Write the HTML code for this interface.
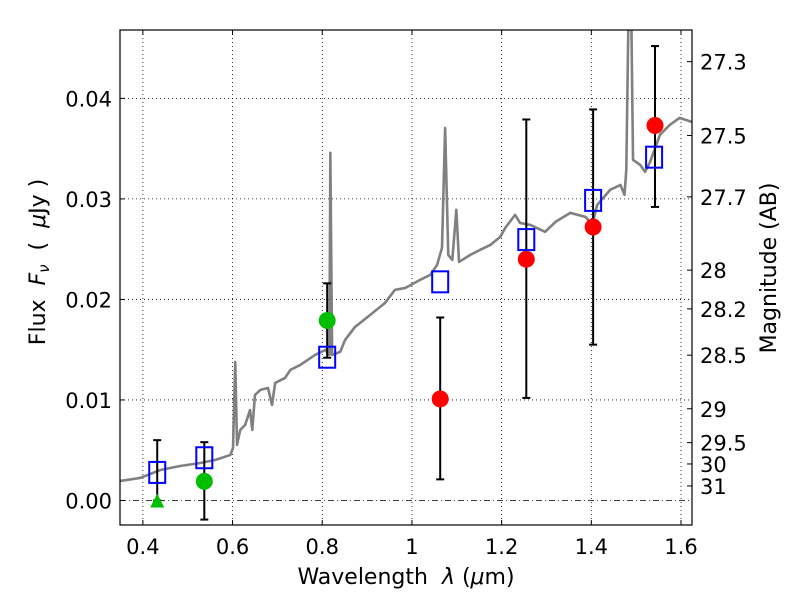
<!DOCTYPE html>
<html><head><meta charset="utf-8"><style>
body{margin:0;background:#fff;}
svg{display:block;font-family:"DejaVu Sans","Liberation Sans",sans-serif;}
</style></head><body>
<svg id="chart" width="800" height="600" viewBox="0 0 800 600" xmlns="http://www.w3.org/2000/svg"></svg>
<script>
const specX=[0.349,0.394,0.439,0.483,0.528,0.561,0.595,0.601,0.606,0.610,0.617,0.628,0.639,0.644,0.650,0.662,0.679,0.688,0.695,0.717,0.729,0.751,0.784,0.807,0.816,0.818,0.822,0.840,0.851,0.873,0.907,0.940,0.962,0.985,1.018,1.041,1.056,1.067,1.074,1.081,1.090,1.099,1.105,1.130,1.152,1.175,1.197,1.208,1.230,1.241,1.264,1.297,1.320,1.353,1.387,1.402,1.413,1.442,1.465,1.474,1.478,1.483,1.489,1.493,1.509,1.520,1.531,1.553,1.575,1.597,1.624];
const specY=[0.00194,0.00224,0.00303,0.00343,0.00373,0.00403,0.00453,0.00522,0.01378,0.00552,0.00701,0.00751,0.00900,0.00701,0.01050,0.01100,0.01119,0.00950,0.01169,0.01219,0.01299,0.01348,0.01448,0.01498,0.01448,0.03458,0.01448,0.01478,0.01597,0.01726,0.01846,0.01965,0.02095,0.02114,0.02194,0.02244,0.02343,0.02512,0.03706,0.02443,0.02393,0.02891,0.02373,0.02443,0.02493,0.02542,0.02622,0.02711,0.02841,0.02761,0.02741,0.02672,0.02771,0.02861,0.02821,0.02741,0.02940,0.03090,0.03139,0.03040,0.03289,0.0488,0.0488,0.03388,0.03338,0.03269,0.03368,0.03637,0.03736,0.03806,0.03766];
const modelX=[0.432,0.537,0.811,1.063,1.255,1.404,1.540];
const modelY=[0.00274,0.0042,0.0142,0.0217,0.0259,0.0298,0.0341];
const errX=[0.432,0.537,0.811,1.063,1.255,1.404,1.542];
const errLo=[0.0,-0.0019,0.0142,0.0021,0.0102,0.0155,0.0292];
const errHi=[0.006,0.0058,0.0216,0.0182,0.0379,0.0389,0.0452];
const redX=[1.063,1.255,1.404,1.542];
const redY=[0.0101,0.0240,0.0272,0.0373];
const greenX=[0.537,0.811];
const greenY=[0.0019,0.0179];
const triX=[0.432];
const triY=[0.0];
const xTicks=[0.4,0.6,0.8,1.0,1.2,1.4,1.6];
const xTickLabels=["0.4","0.6","0.8","1","1.2","1.4","1.6"];
const yTicks=[0,0.01,0.02,0.03,0.04];
const yTickLabels=["0.00","0.01","0.02","0.03","0.04"];
const magTicks=[27.3,27.5,27.7,28,28.2,28.5,29,29.5,30,31];

const L=120,R=692,T=30,B=525;
const X0=0.349,X1=1.6245,Y0=-0.00244,Y1=0.0468;
const sx=v=>L+(v-X0)/(X1-X0)*(R-L);
const sy=v=>B-(v-Y0)/(Y1-Y0)*(B-T);
const NS="http://www.w3.org/2000/svg";
const svg=document.getElementById('chart');
function mk(tag,attrs,parent){const e=document.createElementNS(NS,tag);for(const k in attrs)e.setAttribute(k,attrs[k]);(parent||svg).appendChild(e);return e;}

const defs=mk('defs',{});
const cp=mk('clipPath',{id:'clip'},defs);
mk('rect',{x:L,y:T,width:R-L,height:B-T},cp);

xTicks.forEach((t,i)=>{
  const g=mk('line',{x1:sx(t),x2:sx(t),y1:T,y2:B,stroke:'#000','stroke-width':0.8,'stroke-dasharray':'1,3'});
  
  
  const tk=mk('line',{x1:sx(t),x2:sx(t),y1:B,y2:B-5,stroke:'#000'});
  
  
  const tk2=mk('line',{x1:sx(t),x2:sx(t),y1:T,y2:T+5,stroke:'#000'});
  
  
  const tx=mk('text',{x:sx(t),y:B+29,'text-anchor':'middle','font-size':21});
  tx.textContent=xTickLabels[i];
  
  
});
yTicks.forEach((t,i)=>{
  if(t!==0){
    const g=mk('line',{x1:L,x2:R,y1:sy(t),y2:sy(t),stroke:'#000','stroke-width':0.8,'stroke-dasharray':'1,3'});
    
    
  }
  const tk=mk('line',{x1:L,x2:L+5,y1:sy(t),y2:sy(t),stroke:'#000'});
  
  
  const tx=mk('text',{x:L-8,y:sy(t)+8,'text-anchor':'end','font-size':21});
  tx.textContent=yTickLabels[i];
  
  
});
const zl=mk('line',{x1:L,x2:R,y1:sy(0),y2:sy(0),stroke:'#000','stroke-width':0.8,'stroke-dasharray':'6,3,1,3'});



magTicks.forEach(m=>{
  const f=Math.pow(10,(23.9-m)/2.5);
  const y=sy(f);
  const tk=mk('line',{x1:R,x2:R-5,y1:y,y2:y,stroke:'#000'});
  
  
  const tx=mk('text',{x:R+8,y:y+8,'font-size':21});
  tx.textContent=String(m);
  
  
});

const plot=mk('g',{'clip-path':'url(#clip)'});


const sp=mk('polyline',{points:specX.map((v,i)=>sx(v)+','+sy(specY[i])).join(' '),fill:'none',stroke:'#808080','stroke-width':2.6,'stroke-linejoin':'round'},plot);



errX.forEach((v,i)=>{
  const x=sx(v),y1=sy(errLo[i]),y2=sy(errHi[i]);
  const g=mk('g',{stroke:'#000','stroke-width':2},plot);
  
  
  mk('line',{x1:x,x2:x,y1:y1,y2:y2},g);
  mk('line',{x1:x-4,x2:x+4,y1:y1,y2:y1},g);
  mk('line',{x1:x-4,x2:x+4,y1:y2,y2:y2},g);
});
greenX.forEach((v,i)=>{
  const c=mk('circle',{cx:sx(v),cy:sy(greenY[i]),r:8.5,fill:'#00bf00'},plot);
  
  
});
triX.forEach((v,i)=>{
  const x=sx(v),y=sy(triY[i]);
  const p=mk('polygon',{points:`${x},${y-7} ${x-7},${y+7} ${x+7},${y+7}`,fill:'#00bf00'},plot);
  
  
});
redX.forEach((v,i)=>{
  const c=mk('circle',{cx:sx(v),cy:sy(redY[i]),r:8.5,fill:'#ff0000'},plot);
  
  
});
modelX.forEach((v,i)=>{
  const r=mk('rect',{x:sx(v)-8,y:sy(modelY[i])-11,width:16,height:21,fill:'none',stroke:'#0000ff','stroke-width':2},plot);
  
  
});

const fr=mk('rect',{x:L,y:T,width:R-L,height:B-T,fill:'none',stroke:'#000','stroke-width':1.2});


</script>
<svg style="position:absolute;left:0;top:0" width="800" height="600" xmlns="http://www.w3.org/2000/svg" font-family="DejaVu Sans, Liberation Sans, sans-serif">
<text x="406" y="584" text-anchor="middle" font-size="22" xml:space="preserve">Wavelength  <tspan font-style="italic">λ</tspan> (<tspan font-style="italic">μ</tspan>m)</text>
<text transform="translate(45,262) rotate(-90)" text-anchor="middle" font-size="22" xml:space="preserve">Flux  <tspan font-style="italic">F</tspan><tspan font-style="italic" font-size="15" dy="4">ν</tspan><tspan dy="-4">  (  </tspan><tspan font-style="italic">μ</tspan>Jy )</text>
<text transform="translate(776,268) rotate(-90)" text-anchor="middle" font-size="22">Magnitude (AB)</text>
</svg>
</body></html>
